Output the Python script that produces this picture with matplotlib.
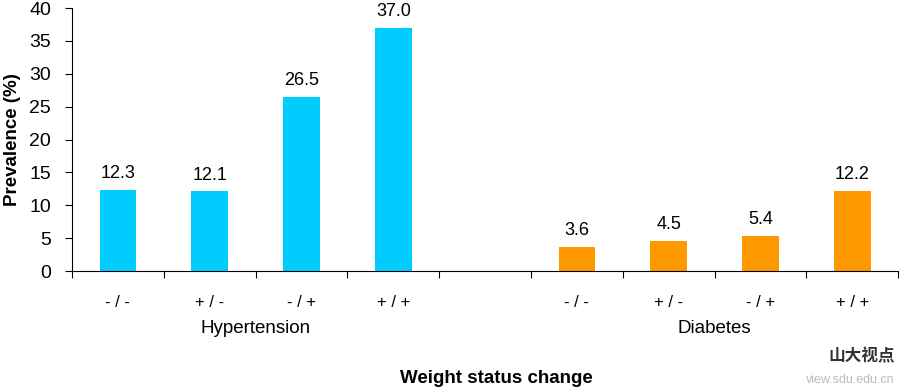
import matplotlib.pyplot as plt
import numpy as np

plt.rcParams['font.family'] = ['Liberation Sans', 'Noto Sans CJK SC', 'DejaVu Sans']

categorias = ['- / -', '+ / -', '- / +', '+ / +']
hipertensao = [12.3, 12.1, 26.5, 37.0]
diabetes = [3.6, 4.5, 5.4, 12.2]
grupos = ['Hypertension', 'Diabetes']

fig = plt.figure(figsize=(9, 3.89), dpi=100)
ax = fig.add_axes([0.08, 0.3033, 0.918, 0.6761])

x_hip = np.arange(4) + 0.5
x_dia = np.arange(4) + 5.5
ax.bar(x_hip, hipertensao, width=0.4, color='#00CCFF')
ax.bar(x_dia, diabetes, width=0.4, color='#FF9900')
for x, v in list(zip(x_hip, hipertensao)) + list(zip(x_dia, diabetes)):
    ax.text(x, v + 2.5, f'{v:.1f}', ha='center', va='center', fontsize=13)

ax.set_xlim(0, 9)
ax.set_ylim(0, 40)
ax.set_yticks(range(0, 41, 5))
ax.set_xticks(range(0, 10))
ax.set_xticklabels([])
ax.set_xticks(list(x_hip) + list(x_dia), minor=True)
ax.set_xticklabels(categorias + categorias, minor=True, fontsize=12)
ax.tick_params(axis='x', which='minor', length=0, pad=17)
ax.tick_params(axis='x', which='major', length=5, direction='out')
ax.tick_params(axis='y', length=5, direction='out', labelsize=14, pad=10)
for s in ['top', 'right']:
    ax.spines[s].set_visible(False)

ax.text(2.0, -8.8, grupos[0], ha='center', va='center', fontsize=13.5)
ax.text(7.0, -8.8, grupos[1], ha='center', va='center', fontsize=13.5)
ax.set_ylabel('Prevalence (%)', fontsize=13.5, fontweight='bold', labelpad=6)
fig.text(0.552, 0.028, 'Weight status change', ha='center', va='center',
         fontsize=13.5, fontweight='bold')

# marca d'agua
fig.text(0.957, 0.085, '山大视点', ha='center', va='center', fontsize=12,
         fontweight='bold', color='#333333')
fig.text(0.945, 0.022, 'view.sdu.edu.cn', ha='center', va='center', fontsize=9,
         color='#bbbbbb')

fig.savefig('out.png', dpi=100)
